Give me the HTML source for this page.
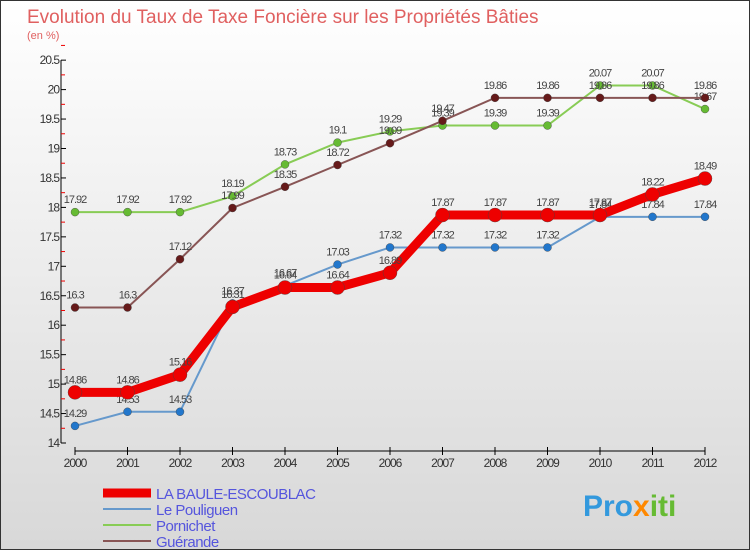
<!DOCTYPE html>
<html><head><meta charset="utf-8"><style>
body{margin:0}
#c{width:748px;height:548px;border:1px solid #333;background:linear-gradient(#fff,#d8d8d8);position:relative;font-family:"Liberation Sans",sans-serif;overflow:hidden}
</style></head><body>
<div id="c">
<svg id="s" width="748" height="548">
<text x="26" y="22" font-size="19" fill="#e06060">Evolution du Taux de Taxe Foncière sur les Propriétés Bâties</text>
<text x="26" y="38" font-size="11" fill="#e06060">(en %)</text>
<text x="582" y="515" font-size="30" font-weight="bold" fill="#3399dd">Pro<tspan fill="#ff8800">x</tspan><tspan fill="#66bb33">iti</tspan></text>
</svg></div>
<script>
const years=["2000","2001","2002","2003","2004","2005","2006","2007","2008","2009","2010","2011","2012"];
const yTicks=[14,14.5,15,15.5,16,16.5,17,17.5,18,18.5,19,19.5,20,20.5];
const baule=[14.86,14.86,15.16,16.31,16.64,16.64,16.89,17.87,17.87,17.87,17.87,18.22,18.49];
const pouliguen=[14.29,14.53,14.53,16.37,16.67,17.03,17.32,17.32,17.32,17.32,17.84,17.84,17.84];
const pornichet=[17.92,17.92,17.92,18.19,18.73,19.1,19.29,19.39,19.39,19.39,20.07,20.07,19.67];
const guerande=[16.3,16.3,17.12,17.99,18.35,18.72,19.09,19.47,19.86,19.86,19.86,19.86,19.86];
const names=["LA BAULE-ESCOUBLAC","Le Pouliguen","Pornichet","Guérande"];
const s=document.getElementById('s');const NS="http://www.w3.org/2000/svg";
function X(i){return 74+i*52.5}
function Y(v){return 442-(v-14)*58.9}
function el(t,a,p){const e=document.createElementNS(NS,t);for(const k in a)e.setAttribute(k,a[k]);(p||s).appendChild(e);return e}
let ax=el('line',{x1:60,y1:Y(20.5),x2:60,y2:Y(14),stroke:'#000'});


yTicks.forEach(v=>{el('line',{x1:60,x2:65,y1:Y(v),y2:Y(v),stroke:'#000'});
el('line',{x1:60,x2:64,y1:Y(v+0.25),y2:Y(v+0.25),stroke:'#e00'});
const t=el('text',{x:58,y:Y(v)+4,'text-anchor':'end','font-size':12,fill:'#333','letter-spacing':'-1'});t.textContent=String(v);

});
let xa=el('line',{x1:X(0),x2:X(12),y1:450,y2:450,stroke:'#000'});


years.forEach((y,i)=>{el('line',{x1:X(i),x2:X(i),y1:446,y2:454,stroke:'#000'});
const t=el('text',{x:X(i),y:466,'text-anchor':'middle','font-size':12,fill:'#333','letter-spacing':'-1'});t.textContent=y;

});
const series=[[pornichet,'#88cc55','#66bb33',2,4],[guerande,'#885555','#661a1a',2,4],[pouliguen,'#6699cc','#2277cc',2,4],[baule,'#ee0000','#ee0000',9,7]];
const snames=["pornichet","guerande","pouliguen","baule"];
series.forEach((sr,k)=>{const [d,lc,pc,w,r]=sr;
const l=el('polyline',{points:d.map((v,i)=>X(i)+','+Y(v)).join(' '),fill:'none',stroke:lc,'stroke-width':w});


d.forEach((v,i)=>{const c=el('circle',{cx:X(i),cy:Y(v),r:r,fill:pc,stroke:'#444','stroke-width':0.4});


const t=el('text',{x:X(i),y:Y(v)-9,'text-anchor':'middle','font-size':11,fill:'#444','letter-spacing':'-1'});t.textContent=String(v);

});});
const lg=[['#ee0000',9],['#6699cc',2],['#88cc55',2],['#885555',2]];
names.forEach((n,i)=>{const y=492+i*16;
const l=el('line',{x1:102,x2:150,y1:y,y2:y,stroke:lg[i][0],'stroke-width':lg[i][1]});


const t=el('text',{x:155,y:y+6,'font-size':15,fill:'#5555dd','letter-spacing':'-0.5'});t.textContent=n;

});
</script>
</body></html>
